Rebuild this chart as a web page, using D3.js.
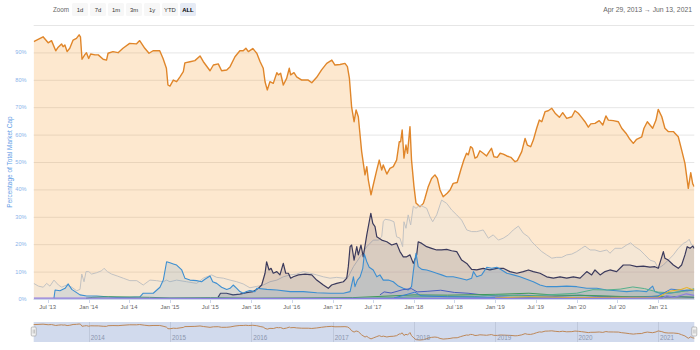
<!DOCTYPE html>
<html>
<head>
<meta charset="utf-8">
<script src="https://cdn.jsdelivr.net/npm/d3@7"></script>
<style>
  body { margin: 0; background: #fff; }
  svg { display: block; font-family: "Liberation Sans", Arial, sans-serif; }
</style>
</head>
<body>
<svg id="chart" width="700" height="350"></svg>
<script>
// ---- data: share of total crypto market cap (%) ----
const bitcoin = [["2013-04-29",93.9],["2013-06-10",95.7],["2013-07-03",93.5],["2013-07-18",94.3],["2013-08-06",90.6],["2013-08-17",91.9],["2013-09-01",93.1],["2013-09-08",92.1],["2013-09-16",92.7],["2013-09-26",90.3],["2013-10-08",91.5],["2013-10-23",94.5],["2013-11-07",95.1],["2013-11-19",96.4],["2013-11-25",95.7],["2013-12-02",87.5],["2013-12-14",89.1],["2013-12-22",89.9],["2014-01-01",87.8],["2014-01-10",89.4],["2014-01-29",89.1],["2014-02-13",89.1],["2014-03-07",87.5],["2014-03-22",87.2],["2014-03-29",89.7],["2014-04-20",90.3],["2014-05-13",89.9],["2014-06-04",91.5],["2014-07-04",93.3],["2014-08-03",93.1],["2014-08-18",94.3],["2014-09-10",91.5],["2014-09-29",89.7],["2014-10-17",90.6],["2014-11-16",90.6],["2014-12-01",87.8],["2014-12-16",84.2],["2014-12-23",78.1],["2015-01-01",77.7],["2015-01-16",79.9],["2015-01-31",79.3],["2015-02-15",81.1],["2015-03-02",83.0],["2015-03-09",86.2],["2015-04-01",86.6],["2015-04-23",87.0],["2015-05-16",88.7],["2015-05-31",86.6],["2015-06-30",83.3],["2015-07-15",85.4],["2015-08-06",85.8],["2015-08-21",83.3],["2015-09-13",83.6],["2015-09-28",84.8],["2015-10-20",88.4],["2015-11-11",90.6],["2015-11-26",90.6],["2015-12-08",91.5],["2015-12-19",90.3],["2016-01-08",91.4],["2016-01-26",89.7],["2016-02-10",86.6],["2016-02-24",84.2],["2016-03-03",79.3],["2016-03-13",76.3],["2016-03-25",79.3],["2016-04-09",78.7],["2016-04-25",82.6],["2016-05-02",81.8],["2016-05-12",82.4],["2016-05-24",78.1],["2016-06-08",80.5],["2016-06-20",84.2],["2016-06-26",81.8],["2016-07-11",82.6],["2016-07-23",81.1],["2016-08-15",79.9],["2016-09-13",79.9],["2016-09-29",78.9],["2016-10-21",80.9],["2016-11-12",83.6],["2016-12-05",86.0],["2016-12-28",87.2],["2017-01-11",85.4],["2017-02-03",85.6],["2017-02-25",86.0],["2017-03-08",84.8],["2017-03-17",80.5],["2017-03-27",70.0],["2017-04-07",64.7],["2017-04-16",69.0],["2017-04-26",66.5],["2017-05-11",53.8],["2017-05-26",45.3],["2017-06-03",48.3],["2017-06-10",43.4],["2017-06-22",38.0],["2017-07-02",41.6],["2017-07-18",47.1],["2017-07-29",50.7],["2017-08-09",47.1],["2017-08-16",48.9],["2017-09-01",45.6],["2017-09-15",47.7],["2017-09-30",48.3],["2017-10-15",50.7],["2017-10-27",57.4],["2017-11-02",57.4],["2017-11-09",61.7],["2017-11-17",51.4],["2017-11-26",56.2],["2017-12-03",53.2],["2017-12-14",62.9],["2017-12-21",50.7],["2018-01-01",41.0],["2018-01-10",35.0],["2018-01-28",33.7],["2018-02-12",34.9],["2018-02-19",36.7],["2018-03-06",41.0],["2018-03-21",44.0],["2018-04-05",45.3],["2018-04-16",44.0],["2018-04-28",39.8],["2018-05-12",37.3],["2018-05-30",38.6],["2018-06-12",39.8],["2018-06-26",42.2],["2018-07-14",42.5],["2018-07-30",47.1],["2018-08-13",50.7],["2018-08-25",53.2],["2018-09-02",52.6],["2018-09-12",55.6],["2018-09-21",55.0],["2018-10-02",51.4],["2018-10-12",51.9],["2018-10-24",54.1],["2018-11-08",53.2],["2018-11-23",52.2],["2018-12-05",53.8],["2018-12-15",55.0],["2018-12-26",51.9],["2019-01-10",51.7],["2019-01-23",53.2],["2019-02-06",52.9],["2019-02-22",52.2],["2019-03-12",51.7],["2019-03-31",50.1],["2019-04-10",50.5],["2019-04-30",53.8],["2019-05-15",58.6],["2019-05-25",56.2],["2019-06-09",55.6],["2019-06-21",58.0],["2019-07-06",62.3],["2019-07-18",65.3],["2019-07-29",64.7],["2019-08-13",68.4],["2019-08-27",68.7],["2019-09-12",69.6],["2019-09-27",67.8],["2019-10-16",66.3],["2019-10-31",68.0],["2019-11-18",65.9],["2019-12-11",66.5],["2019-12-25",68.7],["2020-01-09",67.8],["2020-01-24",66.3],["2020-02-08",64.7],["2020-02-23",62.7],["2020-03-05",63.9],["2020-03-24",64.1],["2020-04-12",65.1],["2020-04-28",63.5],["2020-05-12",66.8],["2020-05-23",65.3],["2020-06-14",65.1],["2020-07-07",64.7],["2020-07-22",62.3],["2020-08-10",60.5],["2020-08-25",58.6],["2020-09-12",56.8],["2020-09-27",58.3],["2020-10-20",59.2],["2020-10-30",62.3],["2020-11-14",64.7],["2020-11-26",63.5],["2020-12-08",62.3],["2020-12-23",65.3],["2021-01-02",69.2],["2021-01-18",66.5],["2021-02-01",62.3],["2021-02-16",61.1],["2021-03-11",61.1],["2021-03-18",60.5],["2021-04-02",59.2],["2021-04-17",54.4],["2021-05-02",49.5],["2021-05-17",40.4],["2021-05-28",46.1],["2021-06-06",42.0],["2021-06-13",41.0]];

const others = [["2013-04-29",5.7],["2013-05-20",4.7],["2013-06-11",4.3],["2013-06-26",5.7],["2013-07-11",4.7],["2013-07-29",6.9],["2013-08-18",5.1],["2013-09-02",4.3],["2013-09-24",5.1],["2013-10-17",4.3],["2013-11-08",3.0],["2013-11-23",3.5],["2013-12-01",9.1],["2013-12-11",6.3],["2013-12-20",10.0],["2014-01-01",10.0],["2014-01-14",9.1],["2014-02-06",9.6],["2014-02-28",10.3],["2014-03-11",11.2],["2014-03-26",10.0],["2014-04-14",9.1],["2014-05-09",8.4],["2014-06-05",7.6],["2014-07-05",6.7],["2014-08-05",6.7],["2014-09-03",5.1],["2014-10-03",6.9],["2014-11-02",6.7],["2014-12-02",6.3],["2014-12-17",6.9],["2015-01-01",6.3],["2015-01-31",6.9],["2015-03-17",6.3],["2015-05-01",5.7],["2015-05-31",7.6],["2015-07-07",8.8],["2015-07-30",7.9],["2015-08-29",7.6],["2015-09-28",6.9],["2015-10-28",6.3],["2015-11-26",5.5],["2015-12-26",4.1],["2016-01-26",4.6],["2016-02-24",5.1],["2016-03-25",6.3],["2016-04-25",6.9],["2016-05-24",8.1],["2016-06-24",8.8],["2016-07-23",9.1],["2016-08-22",10.0],["2016-09-21",9.4],["2016-10-21",8.8],["2016-11-20",8.1],["2016-12-20",7.6],["2017-01-19",7.9],["2017-02-18",7.6],["2017-03-12",8.1],["2017-04-04",11.8],["2017-05-04",15.4],["2017-06-03",19.1],["2017-07-02",21.5],["2017-07-25",21.5],["2017-08-09",22.7],["2017-08-16",28.2],["2017-08-24",29.1],["2017-09-15",28.8],["2017-10-03",28.2],["2017-10-15",22.7],["2017-10-30",22.2],["2017-11-11",19.1],["2017-11-17",28.2],["2017-11-26",25.8],["2017-12-06",30.7],["2017-12-17",27.0],["2017-12-29",33.9],["2018-01-10",33.1],["2018-01-28",34.3],["2018-02-12",33.7],["2018-02-27",33.1],["2018-03-14",30.0],["2018-03-26",28.2],["2018-04-13",30.7],["2018-05-05",36.1],["2018-05-28",34.9],["2018-06-19",32.5],["2018-07-12",30.7],["2018-08-03",28.8],["2018-08-26",25.2],["2018-09-17",24.6],["2018-10-10",24.6],["2018-11-08",25.2],["2018-12-01",22.2],["2018-12-23",23.4],["2019-01-15",21.5],["2019-02-06",22.2],["2019-03-01",23.4],["2019-03-23",25.2],["2019-04-15",26.6],["2019-05-07",24.0],["2019-05-30",22.7],["2019-06-14",20.9],["2019-07-06",19.1],["2019-07-29",17.3],["2019-08-20",16.1],["2019-09-12",14.9],["2019-10-04",15.2],["2019-10-27",15.2],["2019-11-18",16.1],["2019-12-11",16.4],["2020-01-02",17.3],["2020-01-24",18.5],["2020-02-08",19.3],["2020-03-02",17.9],["2020-03-24",17.9],["2020-04-16",17.3],["2020-05-16",17.9],["2020-05-30",16.7],["2020-06-22",18.5],["2020-07-22",18.5],["2020-08-13",19.7],["2020-08-31",20.5],["2020-09-19",19.1],["2020-10-12",17.9],["2020-11-03",16.1],["2020-11-26",14.2],["2020-12-18",13.6],["2021-01-02",11.2],["2021-01-25",12.4],["2021-02-16",14.2],["2021-03-11",16.1],["2021-04-02",18.5],["2021-04-25",20.3],["2021-05-10",20.9],["2021-05-21",21.8],["2021-06-01",19.7],["2021-06-13",19.3]];

const ethereum = [["2015-08-05",0.6],["2015-08-16",2.1],["2015-09-12",2.1],["2015-10-11",1.5],["2015-11-11",1.8],["2015-12-11",2.3],["2016-01-10",2.7],["2016-02-02",3.9],["2016-02-17",5.1],["2016-03-03",9.4],["2016-03-10",13.6],["2016-03-21",10.6],["2016-03-30",11.2],["2016-04-09",9.4],["2016-04-25",10.0],["2016-05-09",8.8],["2016-05-24",13.0],["2016-06-04",9.4],["2016-06-16",9.4],["2016-06-26",7.6],["2016-07-08",8.1],["2016-07-31",8.8],["2016-08-30",9.1],["2016-09-29",8.8],["2016-10-21",6.9],["2016-11-20",5.1],["2016-12-12",3.9],["2016-12-27",5.1],["2017-01-19",5.7],["2017-02-18",6.3],["2017-03-05",7.6],["2017-03-12",11.8],["2017-03-20",19.1],["2017-03-27",19.7],["2017-04-07",14.2],["2017-04-19",19.1],["2017-04-26",16.1],["2017-05-08",19.7],["2017-05-18",15.4],["2017-06-03",23.4],["2017-06-21",31.3],["2017-06-30",27.6],["2017-07-10",26.4],["2017-07-18",22.7],["2017-08-09",21.5],["2017-09-01",20.9],["2017-09-23",19.7],["2017-10-15",20.3],["2017-10-30",17.3],["2017-11-14",15.4],["2017-11-29",15.4],["2017-12-14",16.1],["2017-12-29",13.0],["2018-01-13",16.1],["2018-01-20",20.9],["2018-02-05",20.3],["2018-02-27",19.1],["2018-03-21",18.5],["2018-04-13",17.9],["2018-05-05",17.9],["2018-05-28",18.1],["2018-06-19",17.6],["2018-07-12",17.3],["2018-08-03",14.2],["2018-08-26",13.0],["2018-09-17",10.8],["2018-10-10",10.6],["2018-11-08",11.2],["2018-12-08",10.6],["2019-01-08",11.2],["2019-02-06",11.2],["2019-03-08",10.0],["2019-04-08",9.4],["2019-05-07",10.0],["2019-05-30",10.6],["2019-06-21",10.0],["2019-07-21",9.4],["2019-08-20",8.1],["2019-09-19",7.6],["2019-10-19",8.1],["2019-11-18",7.6],["2019-12-18",8.1],["2020-01-17",7.6],["2020-02-16",10.0],["2020-03-09",8.8],["2020-03-24",10.6],["2020-04-16",8.8],["2020-05-08",10.0],["2020-05-30",10.6],["2020-06-29",10.0],["2020-07-29",12.4],["2020-08-28",12.4],["2020-09-27",11.8],["2020-10-27",12.0],["2020-11-26",11.6],["2020-12-18",11.8],["2021-01-02",11.2],["2021-01-18",15.4],["2021-01-25",17.3],["2021-02-01",14.9],["2021-02-16",14.2],["2021-03-11",12.4],["2021-04-02",11.2],["2021-04-17",12.4],["2021-05-02",16.1],["2021-05-12",19.1],["2021-05-25",18.5],["2021-06-06",19.3],["2021-06-13",18.5]];

const xrp = [["2013-07-29",0.3],["2013-08-03",3.3],["2013-08-25",3.0],["2013-09-17",3.9],["2013-10-01",5.5],["2013-10-17",3.5],["2013-11-01",2.7],["2013-11-23",1.5],["2013-12-23",1.1],["2014-02-06",1.1],["2014-03-23",0.8],["2014-05-07",0.6],["2014-07-05",0.6],["2014-08-19",0.8],["2014-09-03",2.1],["2014-10-18",2.1],["2014-11-17",4.3],["2014-12-02",6.9],["2014-12-17",13.6],["2015-01-01",13.2],["2015-01-16",12.8],["2015-01-31",12.4],["2015-02-23",10.6],["2015-03-09",7.6],["2015-04-01",6.9],["2015-05-01",6.7],["2015-05-23",6.3],["2015-06-07",7.2],["2015-06-30",8.4],["2015-07-12",6.3],["2015-07-30",5.7],["2015-08-21",4.3],["2015-09-13",3.5],["2015-09-28",3.9],["2015-10-12",5.1],["2015-10-28",3.9],["2015-11-11",2.7],["2015-11-26",2.1],["2015-12-11",2.7],["2015-12-26",3.1],["2016-01-18",2.7],["2016-01-26",3.9],["2016-03-11",3.5],["2016-04-25",3.3],["2016-06-24",2.7],["2016-08-22",2.7],["2016-10-21",2.3],["2016-12-20",2.1],["2017-02-18",2.1],["2017-03-20",2.7],["2017-04-04",8.1],["2017-04-11",4.5],["2017-04-22",6.9],["2017-05-04",8.1],["2017-05-16",11.2],["2017-05-23",16.4],["2017-06-03",13.6],["2017-06-14",11.6],["2017-07-02",10.6],["2017-07-18",8.1],["2017-08-01",8.8],["2017-08-16",6.9],["2017-09-08",6.9],["2017-09-30",6.3],["2017-10-23",4.7],["2017-11-14",3.9],["2017-12-06",3.3],["2017-12-21",4.5],["2017-12-29",10.0],["2018-01-05",14.2],["2018-01-10",16.7],["2018-01-20",11.8],["2018-02-05",10.8],["2018-02-27",10.6],["2018-03-21",10.0],["2018-04-13",9.4],["2018-05-05",8.8],["2018-05-28",8.1],["2018-06-26",8.1],["2018-07-26",7.6],["2018-08-26",6.9],["2018-09-17",7.6],["2018-09-25",10.0],["2018-10-10",8.1],["2018-11-01",8.8],["2018-11-24",11.6],["2018-12-16",11.2],["2019-01-08",11.6],["2019-01-30",10.6],["2019-02-22",9.4],["2019-03-23",8.8],["2019-04-22",8.1],["2019-05-22",7.2],["2019-06-21",6.3],["2019-07-21",5.1],["2019-08-20",4.5],["2019-10-04",4.5],["2019-11-18",4.7],["2020-01-02",4.5],["2020-02-16",3.9],["2020-04-01",3.9],["2020-05-16",3.3],["2020-06-29",3.0],["2020-08-13",2.7],["2020-09-27",3.0],["2020-11-11",2.7],["2020-11-26",3.9],["2020-12-08",4.7],["2020-12-18",2.7],["2021-01-10",2.1],["2021-02-24",2.1],["2021-04-10",2.7],["2021-05-10",3.3],["2021-06-13",3.3]];

const bitcoinCash = [["2017-08-01",1.5],["2017-08-20",2.6],["2017-09-20",2.2],["2017-11-12",3.4],["2017-12-20",3.8],["2018-01-15",2.6],["2018-03-01",2.8],["2018-05-01",3.2],["2018-07-01",2.4],["2018-09-01",2.1],["2018-11-15",1.4],["2019-01-15",1.1],["2019-04-15",1.4],["2019-07-01",1.2],["2019-10-01",1.0],["2020-01-15",1.4],["2020-04-01",1.0],["2020-07-01",0.9],["2020-10-01",0.7],["2021-01-01",0.6],["2021-04-15",0.8],["2021-06-13",0.5]];

const tether = [["2017-01-01",0.1],["2017-10-01",0.5],["2018-01-01",0.8],["2018-06-01",0.9],["2018-10-01",0.9],["2019-01-01",1.5],["2019-06-01",1.1],["2019-10-01",1.7],["2020-01-01",2.1],["2020-03-15",3.4],["2020-05-15",3.3],["2020-07-15",3.6],["2020-09-10",4.4],["2020-11-01",3.8],["2021-01-01",2.5],["2021-03-01",2.3],["2021-05-15",3.0],["2021-06-13",3.8]];

const litecoin = [["2013-12-20",0.3],["2014-01-20",0.6],["2014-04-01",0.8],["2014-07-01",0.7],["2014-10-01",0.6],["2015-01-01",0.4],["2015-07-01",0.5],["2016-01-01",0.3],["2017-04-01",0.5],["2018-01-01",1.5],["2018-06-01",1.4],["2019-01-01",1.7],["2019-06-01",2.1],["2019-10-01",1.4],["2020-03-01",1.3],["2020-09-01",0.8],["2021-01-01",1.0],["2021-06-13",0.7]];

const binance = [["2019-01-01",0.4],["2019-06-01",0.8],["2020-01-01",0.5],["2020-06-01",0.6],["2021-01-01",0.6],["2021-02-20",2.8],["2021-04-15",3.5],["2021-05-10",4.2],["2021-06-13",3.2]];

const cardano = [["2017-10-01",0.3],["2018-01-05",2.5],["2018-02-01",1.2],["2018-06-01",0.8],["2019-01-01",0.6],["2020-01-01",0.4],["2020-11-01",0.7],["2021-01-01",1.1],["2021-02-28",3.6],["2021-05-15",3.0],["2021-06-13",3.3]];

const dogecoin = [["2013-04-29",0.3],["2014-01-01",0.3],["2016-01-01",0.2],["2018-01-01",0.2],["2020-01-01",0.2],["2021-01-20",0.3],["2021-02-08",1.2],["2021-03-15",0.6],["2021-05-08",1.9],["2021-06-13",1.3]];

const dateRange = ["2013-04-29", "2021-06-13"];
const yTicks = [0, 10, 20, 30, 40, 50, 60, 70, 80, 90];
const zoomButtons = ["1d", "7d", "1m", "3m", "1y", "YTD", "ALL"];

// ---- drawing ----
const parse = d3.utcParse("%Y-%m-%d");
const svg = d3.select("#chart");

const plot = { left: 33.7, right: 694.3, top: 25, bottom: 299 };
const x = d3.scaleUtc().domain(dateRange.map(parse)).range([plot.left, plot.right]);
const y = d3.scaleLinear().domain([0, 100]).range([plot.bottom, plot.top]);

const series = [
  { data: bitcoin,     line: "#e0862a", fill: "#f7931a", op: 0.21, w: 1.4 },
  { data: others,      line: "#c2c2c2", fill: "#e6e6e6", op: 0.3,  w: 1 },
  { data: ethereum,    line: "#3b3a5c", fill: "#4a3d5a", op: 0.16, w: 1.2 },
  { data: xrp,         line: "#3d8fd1", fill: "#3d8fd1", op: 0.15, w: 1.1 },
  { data: bitcoinCash, line: "#4b5fc0", fill: "#4b5fc0", op: 0.08, w: 1 },
  { data: litecoin,    line: "#3f9a5a", fill: "#3f9a5a", op: 0.06, w: 1 },
  { data: tether,      line: "#55b08c", fill: "#55b08c", op: 0.08, w: 1 },
  { data: cardano,     line: "#3a7fd6", fill: "#3a7fd6", op: 0.06, w: 1 },
  { data: binance,     line: "#e9b320", fill: "#e9b320", op: 0.08, w: 1 },
  { data: dogecoin,    line: "#8d7ee0", fill: "#8d7ee0", op: 0.1,  w: 1.2 }
];

const fontAxis = 5.9;

// horizontal grid
svg.append("g").selectAll("line")
  .data(d3.range(0, 101, 10))
  .join("line")
  .attr("x1", plot.left).attr("x2", plot.right)
  .attr("y1", d => y(d) + 0.5).attr("y2", d => y(d) + 0.5)
  .attr("stroke", "#e6e6e6").attr("stroke-width", 1);

svg.append("defs").append("clipPath").attr("id", "plotClip")
  .append("rect")
  .attr("x", plot.left).attr("y", plot.top - 2)
  .attr("width", plot.right - plot.left).attr("height", plot.bottom - plot.top + 2);

const gSeries = svg.append("g").attr("clip-path", "url(#plotClip)");
const area = d3.area().x(d => x(d.t)).y0(y(0)).y1(d => y(d.v));
const line = d3.line().x(d => x(d.t)).y(d => y(d.v));

series.forEach(s => {
  const pts = s.data.map(([d, v]) => ({ t: parse(d), v }));
  gSeries.append("path").datum(pts)
    .attr("d", area).attr("fill", s.fill).attr("fill-opacity", s.op);
  gSeries.append("path").datum(pts)
    .attr("d", line).attr("fill", "none")
    .attr("stroke", s.line).attr("stroke-width", s.w)
    .attr("stroke-linejoin", "round");
});

// x axis
const xTickDates = d3.utcMonths(parse("2013-07-01"), parse(dateRange[1]), 6);
svg.append("line")
  .attr("x1", plot.left).attr("x2", plot.right)
  .attr("y1", plot.bottom + 0.5).attr("y2", plot.bottom + 0.5)
  .attr("stroke", "#ccd6eb");
const gx = svg.append("g");
gx.selectAll("line").data(xTickDates).join("line")
  .attr("x1", d => Math.round(x(d)) + 0.5).attr("x2", d => Math.round(x(d)) + 0.5)
  .attr("y1", plot.bottom).attr("y2", plot.bottom + 4)
  .attr("stroke", "#ccd6eb");
gx.selectAll("text").data(xTickDates).join("text")
  .attr("x", d => x(d)).attr("y", 309)
  .attr("text-anchor", "middle")
  .attr("font-size", fontAxis).attr("fill", "#666")
  .text(d3.utcFormat("%b '%y"));

// y axis labels and title
svg.append("g").selectAll("text").data(yTicks).join("text")
  .attr("x", 26.5).attr("y", d => y(d)).attr("dy", "0.35em")
  .attr("text-anchor", "end")
  .attr("font-size", 5.6).attr("fill", "#8ab3ea")
  .text(d => d + "%");
svg.append("text")
  .attr("transform", "translate(11.5,162) rotate(-90)")
  .attr("text-anchor", "middle")
  .attr("font-size", 6.5).attr("fill", "#5f9de6")
  .text("Percentage of Total Market Cap");

// range selector
svg.append("text").attr("x", 53).attr("y", 11.5)
  .attr("font-size", 6.3).attr("fill", "#666").text("Zoom");
const gb = svg.append("g").selectAll("g").data(zoomButtons).join("g")
  .attr("transform", (d, i) => `translate(${72 + i * 18},3)`);
gb.append("rect").attr("width", 16).attr("height", 13).attr("rx", 1.5)
  .attr("fill", d => d === "ALL" ? "#e6ebf5" : "#f7f7f7");
gb.append("text").attr("x", 8).attr("y", 9)
  .attr("text-anchor", "middle").attr("font-size", 5.9)
  .attr("font-weight", d => d === "ALL" ? "bold" : "normal")
  .attr("fill", d => d === "ALL" ? "#000" : "#333")
  .text(d => d);

const fmtRange = d3.utcFormat("%b %-d, %Y");
svg.append("text").attr("x", 692).attr("y", 11.5)
  .attr("text-anchor", "end").attr("font-size", 6.8).attr("fill", "#666")
  .text(`${fmtRange(parse(dateRange[0]))}  \u2192  ${fmtRange(parse(dateRange[1]))}`);

// navigator
const nav = { top: 322, bottom: 342 };
const btcPts = bitcoin.map(([d, v]) => ({ t: parse(d), v }));
const yNav = d3.scaleLinear()
  .domain(d3.extent(btcPts, d => d.v))
  .range([340, 324]);
const yearStarts = d3.utcYears(parse("2014-01-01"), parse(dateRange[1]));
svg.append("rect")
  .attr("x", plot.left).attr("y", nav.top)
  .attr("width", plot.right - plot.left).attr("height", nav.bottom - nav.top)
  .attr("fill", "#fff");
svg.append("g").selectAll("line").data(yearStarts).join("line")
  .attr("x1", d => Math.round(x(d)) + 0.5).attr("x2", d => Math.round(x(d)) + 0.5)
  .attr("y1", nav.top).attr("y2", nav.bottom)
  .attr("stroke", "#e6e6e6");
svg.append("path").datum(btcPts)
  .attr("d", d3.line().x(d => x(d.t)).y(d => yNav(d.v)))
  .attr("fill", "none").attr("stroke", "#e3892a").attr("stroke-width", 1);
svg.append("rect")
  .attr("x", plot.left).attr("y", nav.top)
  .attr("width", plot.right - plot.left).attr("height", nav.bottom - nav.top)
  .attr("fill", "rgb(102,133,194)").attr("fill-opacity", 0.3);
svg.append("g").selectAll("text").data(yearStarts).join("text")
  .attr("x", d => x(d) + 2).attr("y", 340)
  .attr("font-size", 6.3).attr("fill", "#8c96ad")
  .text(d3.utcFormat("%Y"));
const handles = svg.append("g").selectAll("g").data([plot.left, plot.right]).join("g")
  .attr("transform", d => `translate(${d},0)`);
handles.append("rect")
  .attr("x", -2.5).attr("y", 327).attr("width", 5).attr("height", 9).attr("rx", 1)
  .attr("fill", "#f2f2f2").attr("stroke", "#999").attr("stroke-width", 0.6);
handles.append("line").attr("x1", -0.5).attr("x2", -0.5).attr("y1", 329.5).attr("y2", 333.5)
  .attr("stroke", "#999").attr("stroke-width", 0.5);
handles.append("line").attr("x1", 0.8).attr("x2", 0.8).attr("y1", 329.5).attr("y2", 333.5)
  .attr("stroke", "#999").attr("stroke-width", 0.5);
</script>
</body>
</html>
